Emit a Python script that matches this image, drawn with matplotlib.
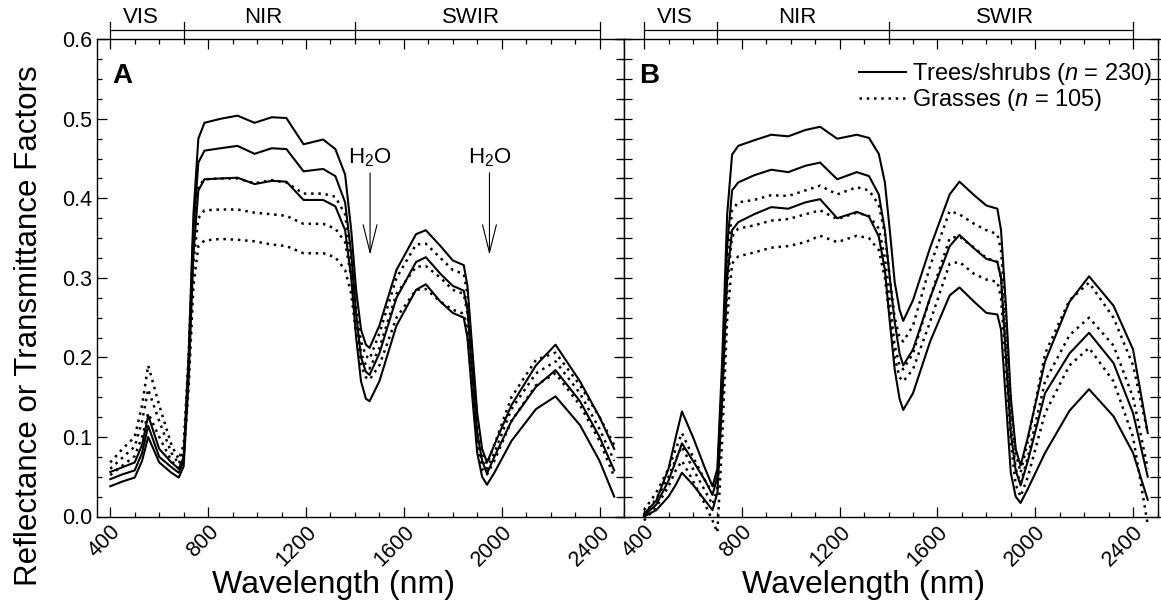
import numpy as np
import matplotlib
matplotlib.use("Agg")
import matplotlib.pyplot as plt
from matplotlib.ticker import MultipleLocator

plt.rcParams['font.family'] = ['Liberation Sans', 'DejaVu Sans']
plt.rcParams['mathtext.fontset'] = 'custom'
plt.rcParams['mathtext.rm'] = 'Liberation Sans'
plt.rcParams['mathtext.it'] = 'Liberation Sans:italic'

# wavelength grid (nm) shared by all spectra
wavelength = [400, 450, 500, 530, 555, 600, 650, 680, 700, 720, 740, 760, 785, 850, 920,
              990, 1060, 1120, 1190, 1270, 1320, 1360, 1385, 1405, 1425, 1445, 1460, 1500,
              1570, 1650, 1690, 1750, 1800, 1845, 1860, 1880, 1900, 1920, 1940, 1970, 2040,
              2140, 2220, 2320, 2400, 2460]

# panel A - trees/shrubs (mean + sd, mean, mean - sd)
a_trees_hi = [0.056, 0.062, 0.068, 0.09, 0.127, 0.085, 0.068, 0.060, 0.075, 0.20, 0.38, 0.475, 0.495, 0.500, 0.504,
              0.495, 0.502, 0.501, 0.468, 0.474, 0.462, 0.43, 0.36, 0.285, 0.235, 0.216, 0.212, 0.24,
              0.31, 0.355, 0.360, 0.340, 0.322, 0.316, 0.29, 0.21, 0.13, 0.085, 0.068, 0.09, 0.14,
              0.19, 0.216, 0.17, 0.125, 0.085]
a_trees_mid = [0.047, 0.053, 0.058, 0.08, 0.114, 0.075, 0.062, 0.055, 0.07, 0.19, 0.36, 0.445, 0.460, 0.463, 0.466,
               0.456, 0.463, 0.462, 0.434, 0.437, 0.428, 0.395, 0.33, 0.255, 0.2, 0.182, 0.178, 0.205,
               0.275, 0.32, 0.326, 0.305, 0.29, 0.284, 0.26, 0.18, 0.105, 0.07, 0.054, 0.075, 0.12,
               0.163, 0.184, 0.145, 0.1, 0.058]
a_trees_lo = [0.038, 0.044, 0.049, 0.07, 0.100, 0.068, 0.055, 0.049, 0.063, 0.17, 0.33, 0.41, 0.424, 0.425, 0.426,
              0.418, 0.422, 0.421, 0.398, 0.398, 0.39, 0.36, 0.30, 0.225, 0.17, 0.148, 0.145, 0.17,
              0.24, 0.285, 0.292, 0.27, 0.256, 0.25, 0.225, 0.15, 0.08, 0.05, 0.04, 0.055, 0.095,
              0.135, 0.151, 0.115, 0.07, 0.025]
# panel A - grasses
a_grass_hi = [0.068, 0.085, 0.1, 0.14, 0.19, 0.14, 0.09, 0.072, 0.09, 0.2, 0.36, 0.415, 0.424, 0.425, 0.425,
              0.419, 0.423, 0.42, 0.406, 0.406, 0.402, 0.38, 0.32, 0.26, 0.22, 0.202, 0.198, 0.23,
              0.3, 0.342, 0.343, 0.325, 0.31, 0.305, 0.28, 0.2, 0.12, 0.08, 0.066, 0.09, 0.15,
              0.197, 0.206, 0.165, 0.125, 0.09]
a_grass_mid = [0.06, 0.074, 0.088, 0.12, 0.16, 0.12, 0.08, 0.066, 0.083, 0.18, 0.32, 0.375, 0.385, 0.386, 0.386,
               0.382, 0.38, 0.378, 0.368, 0.368, 0.362, 0.345, 0.3, 0.245, 0.205, 0.19, 0.186, 0.212,
               0.28, 0.314, 0.315, 0.3, 0.285, 0.28, 0.255, 0.18, 0.1, 0.07, 0.06, 0.08, 0.135,
               0.18, 0.195, 0.155, 0.11, 0.07]
a_grass_lo = [0.052, 0.064, 0.076, 0.1, 0.13, 0.1, 0.07, 0.06, 0.076, 0.16, 0.29, 0.34, 0.347, 0.349, 0.348,
              0.346, 0.342, 0.34, 0.331, 0.331, 0.326, 0.31, 0.28, 0.23, 0.19, 0.175, 0.172, 0.19,
              0.25, 0.285, 0.286, 0.27, 0.26, 0.255, 0.23, 0.16, 0.09, 0.06, 0.053, 0.07, 0.12,
              0.165, 0.18, 0.14, 0.095, 0.05]

# panel B - trees/shrubs
b_trees_hi = [0.003, 0.02, 0.06, 0.1, 0.132, 0.1, 0.06, 0.038, 0.06, 0.2, 0.38, 0.455, 0.466, 0.473, 0.48,
              0.478, 0.486, 0.49, 0.475, 0.48, 0.476, 0.456, 0.42, 0.36, 0.295, 0.26, 0.246, 0.272,
              0.338, 0.405, 0.421, 0.404, 0.391, 0.387, 0.36, 0.265, 0.15, 0.085, 0.064, 0.1, 0.195,
              0.27, 0.302, 0.265, 0.21, 0.105]
b_trees_mid = [0.001, 0.015, 0.045, 0.07, 0.092, 0.07, 0.045, 0.027, 0.05, 0.18, 0.34, 0.41, 0.42, 0.429, 0.436,
               0.433, 0.441, 0.445, 0.424, 0.433, 0.428, 0.405, 0.36, 0.3, 0.245, 0.205, 0.19, 0.21,
               0.275, 0.34, 0.354, 0.337, 0.324, 0.32, 0.3, 0.2, 0.105, 0.058, 0.039, 0.07, 0.155,
               0.205, 0.231, 0.193, 0.13, 0.05]
b_trees_lo = [0.0, 0.008, 0.025, 0.04, 0.055, 0.04, 0.02, 0.008, 0.03, 0.15, 0.3, 0.36, 0.37, 0.38, 0.389,
              0.387, 0.395, 0.399, 0.375, 0.383, 0.377, 0.352, 0.31, 0.245, 0.185, 0.148, 0.134, 0.155,
              0.22, 0.278, 0.288, 0.27, 0.256, 0.254, 0.235, 0.145, 0.055, 0.025, 0.017, 0.035, 0.08,
              0.133, 0.16, 0.126, 0.08, 0.021]
# panel B - grasses
b_grass_hi = [0.008, 0.03, 0.06, 0.085, 0.105, 0.075, 0.045, 0.03, 0.05, 0.17, 0.32, 0.385, 0.395, 0.398, 0.404,
              0.403, 0.41, 0.416, 0.405, 0.414, 0.41, 0.392, 0.355, 0.3, 0.25, 0.225, 0.22, 0.24,
              0.315, 0.384, 0.38, 0.368, 0.36, 0.355, 0.335, 0.25, 0.14, 0.08, 0.055, 0.095, 0.205,
              0.272, 0.294, 0.25, 0.19, 0.105]
b_grass_mid = [0.003, 0.022, 0.05, 0.072, 0.088, 0.06, 0.032, 0.015, 0.035, 0.15, 0.29, 0.352, 0.362, 0.366, 0.372,
               0.374, 0.38, 0.385, 0.374, 0.382, 0.378, 0.362, 0.325, 0.27, 0.215, 0.19, 0.185, 0.205,
               0.275, 0.35, 0.352, 0.338, 0.325, 0.32, 0.3, 0.22, 0.115, 0.06, 0.042, 0.075, 0.17,
               0.228, 0.25, 0.215, 0.15, 0.06]
b_grass_lo = [-0.005, 0.012, 0.038, 0.058, 0.07, 0.045, 0.015, -0.005, -0.02, 0.1, 0.25, 0.318, 0.327, 0.332, 0.338,
              0.34, 0.345, 0.353, 0.345, 0.353, 0.35, 0.335, 0.3, 0.25, 0.2, 0.175, 0.17, 0.185,
              0.245, 0.318, 0.32, 0.305, 0.298, 0.295, 0.275, 0.19, 0.095, 0.04, 0.025, 0.05, 0.13,
              0.19, 0.212, 0.17, 0.1, -0.01]

band_names = ["VIS", "NIR", "SWIR"]
band_edges = [400, 700, 1400, 2400]
water_bands = [1462, 1950]

W, H = 1161, 609


def box(left, right, top, bottom):
    return [left / W, 1 - bottom / H, (right - left) / W, (bottom - top) / H]


fig = plt.figure(figsize=(W / 100, H / 100), dpi=100)
axA = fig.add_axes(box(97.3, 624, 39.3, 516.5))
axB = fig.add_axes(box(624, 1158, 39.3, 516.5))

solid = dict(color='black', lw=1.5, ls='-', clip_on=False)
dotted = dict(color='black', lw=1.8, ls=(0, (1.0, 1.9)), clip_on=False)

for ax, trees, grass in [(axA, (a_trees_hi, a_trees_mid, a_trees_lo), (a_grass_hi, a_grass_mid, a_grass_lo)),
                         (axB, (b_trees_hi, b_trees_mid, b_trees_lo), (b_grass_hi, b_grass_mid, b_grass_lo))]:
    for g in grass:
        ax.plot(wavelength, g, **dotted)
    for t in trees:
        ax.plot(wavelength, t, **solid)

    ax.set_ylim(0, 0.6)
    ax.xaxis.set_major_locator(MultipleLocator(400))
    ax.xaxis.set_minor_locator(MultipleLocator(100))
    ax.yaxis.set_major_locator(MultipleLocator(0.1))
    ax.yaxis.set_minor_locator(MultipleLocator(0.025))
    ax.tick_params(which='both', direction='in', top=True, right=True, width=0.9, labelsize=15.5)
    ax.tick_params(which='major', length=7)
    ax.tick_params(which='minor', length=3.5)
    for s in ax.spines.values():
        s.set_linewidth(1.0)
    ax.set_xticks([400, 800, 1200, 1600, 2000, 2400])
    ax.set_xticklabels(["400", "800", "1200", "1600", "2000", "2400"], rotation=45,
                       ha='right', va='top', rotation_mode='anchor')
    ax.set_xlabel("Wavelength (nm)", fontsize=23)
    ax.xaxis.set_label_coords(0.448, -0.112)

    # band header above each panel
    tr = ax.get_xaxis_transform()
    ax.plot([band_edges[0], band_edges[-1]], [1.02, 1.02], color='black', lw=0.9,
            transform=tr, clip_on=False)
    for e in band_edges:
        ax.plot([e, e], [1.0, 1.037], color='black', lw=0.9, transform=tr, clip_on=False)
    for name, lo, hi in zip(band_names, band_edges[:-1], band_edges[1:]):
        ax.text((lo + hi) / 2 - 25, 1.024, name, transform=tr, ha='center', va='bottom', fontsize=16)

axA.set_xlim(347, 2500)
axB.set_xlim(318, 2502)
axA.set_yticks([0, 0.1, 0.2, 0.3, 0.4, 0.5, 0.6])
axA.set_yticklabels(["0.0", "0.1", "0.2", "0.3", "0.4", "0.5", "0.6"])
axA.set_ylabel("Reflectance or Transmittance Factors", fontsize=22.5)
axA.yaxis.set_label_coords(-0.102, 0.4)
axB.tick_params(axis='y', which='both', labelleft=False)
axB.tick_params(axis='y', which='both', left=True, direction='inout')
axB.tick_params(axis='y', which='major', length=12)
axB.tick_params(axis='y', which='minor', length=12)
axB.tick_params(axis='y', which='both', right=True)

axA.text(0.028, 0.95, "A", transform=axA.transAxes, fontsize=20, fontweight='bold', ha='left', va='top')
axB.text(0.028, 0.95, "B", transform=axB.transAxes, fontsize=20, fontweight='bold', ha='left', va='top')

for wl in water_bands:
    axA.annotate("", xy=(wl, 0.329), xytext=(wl, 0.432),
                 arrowprops=dict(arrowstyle='->,head_length=1.0,head_width=0.25', lw=0.8,
                                 mutation_scale=20, color='black', shrinkA=0, shrinkB=0))
    axA.text(wl, 0.437, "H$_2$O", ha='center', va='bottom', fontsize=16)

hs, = axB.plot([], [], **solid)
hd, = axB.plot([], [], **dotted)
axB.legend([hs, hd], ["Trees/shrubs ($\\it{n}$ = 230)", "Grasses ($\\it{n}$ = 105)"],
           loc='upper right', bbox_to_anchor=(0.99, 0.954), frameon=False, fontsize=17,
           handlelength=2.0, handletextpad=0.25, labelspacing=0.0, borderaxespad=0.0, borderpad=0.0)

fig.savefig("out.png", dpi=100)
